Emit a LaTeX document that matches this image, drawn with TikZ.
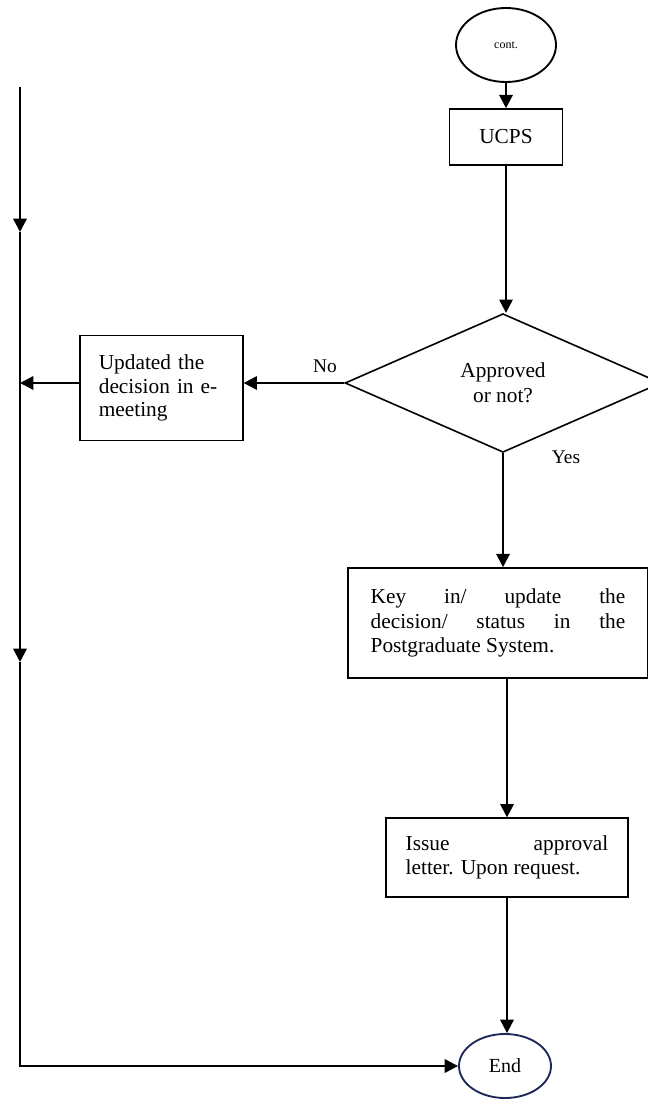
\documentclass[tikz,border=0pt]{standalone}
\usepackage{fontspec}
\setmainfont{Liberation Serif}
\usetikzlibrary{shapes.geometric, arrows.meta}

\definecolor{endblue}{RGB}{30,40,90}

\tikzset{
  box/.style={draw, line width=1.2pt, rectangle, font=\fontsize{16}{18.5}\selectfont},
  flow/.style={line width=1.7pt, -{Triangle[length=10pt, width=10pt]}},
  plain/.style={line width=1.7pt}
}

\begin{document}
\begin{tikzpicture}[x=0.75pt, y=-0.75pt]
    \useasboundingbox (0,0) rectangle (648,1099);

    % top of the chart
    \node[draw, ellipse, line width=1.4pt, minimum width=75pt, minimum height=55.5pt,
          font=\fontsize{9}{10}\selectfont] (cont) at (506,45) {cont.};
    \node[box, minimum width=85pt, minimum height=42pt] (ucps) at (506,137) {UCPS};
    \node[box, diamond, inner sep=0pt, minimum width=237pt, minimum height=104pt,
          align=center] (approve) at (503,383) {Approved\\or not?};

    % the two branches
    \node[box, minimum height=79pt, text width=94pt, inner xsep=14pt, align=left,
          font=\fontsize{16}{17.5}\selectfont]
          (upd) at (161.5,388) {Updated the\\decision in e-\\meeting};
    \node[box, minimum height=82.5pt, text width=191pt, inner xsep=17pt, align=justify]
          (key) at (498,623) {Key in/ update the\linebreak decision/ status in the\linebreak Postgraduate System.};
    \node[box, minimum height=59pt, text width=152pt, inner xsep=14.75pt, align=justify]
          (issue) at (507,857.5) {Issue approval\linebreak letter. Upon request.};
    \node[draw=endblue, ellipse, line width=1.4pt, minimum width=69pt, minimum height=48pt,
          font=\fontsize{15}{16}\selectfont] (end) at (505,1066) {End};

    \node[font=\fontsize{14.5}{16}\selectfont] (no) at (325,366) {No};
    \node[font=\fontsize{14.5}{16}\selectfont] (yes) at (566,457) {Yes};

    % left return line
    \coordinate (lt) at (20,87);
    \coordinate (la) at (20,232);
    \coordinate (lb) at (20,662);

    \draw[flow] (cont) -- (ucps);
    \draw[flow] (ucps) -- (ucps |- approve.north);
    \draw[flow] (approve.west) -- (upd.east |- approve.west);
    \draw[flow] (upd.west |- approve.west) -- (lt |- approve.west);
    \draw[flow] (approve.south) -- (approve.south |- key.north);
    \draw[flow] (key.south -| issue) -- (issue.north);
    \draw[flow] (issue.south) -- (issue.south |- end.north);

    \draw[flow] (lt) -- (la);
    \draw[flow] (la) -- (lb);
    \draw[flow] (lb) |- (end.west);
\end{tikzpicture}
\end{document}
